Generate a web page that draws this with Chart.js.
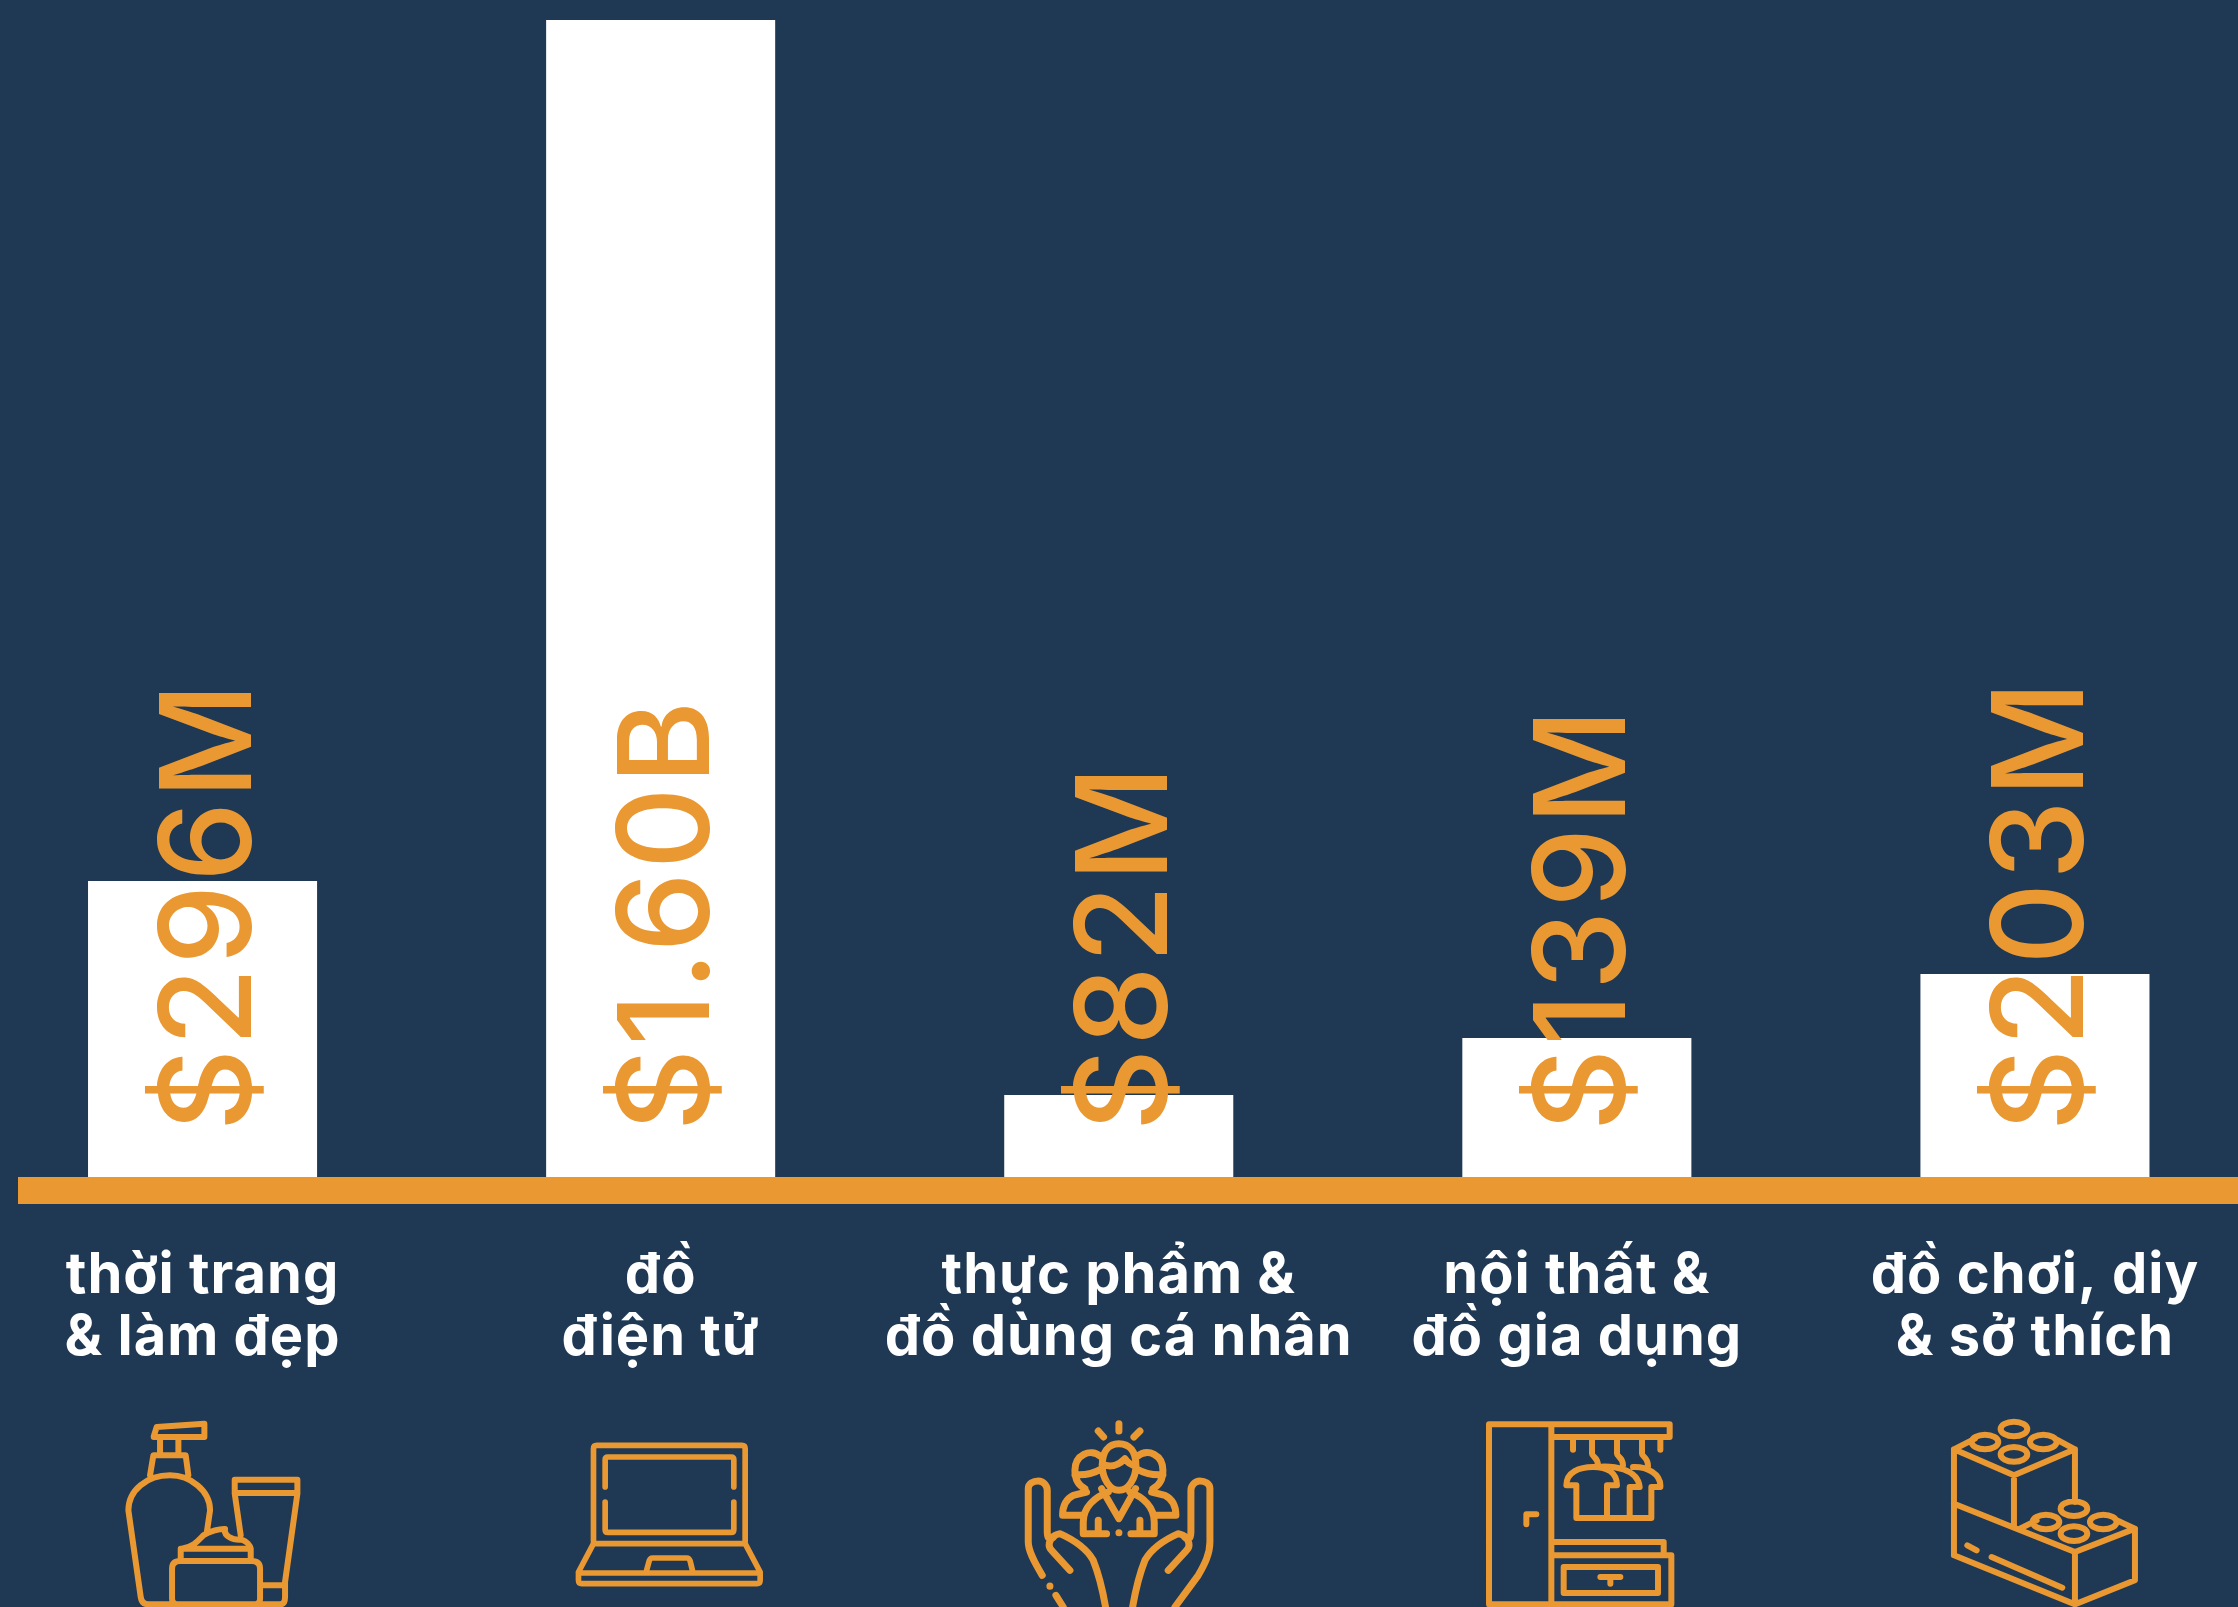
<!DOCTYPE html>
<html>
<head>
<meta charset="utf-8">
<title>Chart</title>
<script src="https://cdn.jsdelivr.net/npm/chart.js@4"></script>
<style>
    html, body { margin: 0; padding: 0; width: 2238px; height: 1607px; overflow: hidden; background: #1f3853; }
    #marketChart { position: absolute; left: -27px; top: 0; }
</style>
</head>
<body>
<canvas id="marketChart" width="2291" height="1607"></canvas>
<script>
const categories = [
    ['thời trang', '& làm đẹp'],
    ['đồ', 'điện tử'],
    ['thực phẩm &', 'đồ dùng cá nhân'],
    ['nội thất &', 'đồ gia dụng'],
    ['đồ chơi, diy', '& sở thích']
];
// million USD
const values = [296, 1600, 82, 139, 203];
const valueLabels = ['$296M', '$1.60B', '$82M', '$139M', '$203M'];
// the big bar runs off the top of the axis in the original
const axisMax = 1157;

const navy = '#1f3853';
const orange = '#ea9832';

function ellipse(cx, cy, rx, ry) {
    return 'M' + (cx - rx) + ' ' + cy + ' a' + rx + ' ' + ry + ' 0 1 0 ' + (2 * rx) + ' 0 a' + rx + ' ' + ry + ' 0 1 0 ' + (-2 * rx) + ' 0 ';
}

// line icons, in a 600 box (3 units = 1px), dx = box left relative to the bar centre
const icons = [
    { dx: -92.5, w: 18, d: 'M131 88 L140 60 L283 50 V90 H131 Z M150 90 V140 M205 90 V140 M120 205 L130 145 H227 L235 205 ' +
        'M290 378 L300 310 C300 250 240 205 180 205 C110 205 55 250 55 310 L92 570 Q95 592 115 592 H510 Q525 592 525 570 V525 L562 260 V218 H374 V260 L392 385 M374 258 H562 M455 535 H525 ' +
        'M212 458 V425 H422 V458 M215 425 C250 420 265 400 280 385 C300 372 330 365 345 366 C340 385 365 400 395 398 C410 403 420 415 422 425 ' +
        'M210 462 H425 Q450 462 450 485 V575 Q450 592 432 592 H205 Q186 592 186 575 V485 Q186 462 210 462 Z' },
    { dx: -95.5, w: 17, d: 'M85 405 V125 Q85 115 95 115 H530 Q540 115 540 125 V405 M85 410 H540 M85 410 L40 495 M540 410 L585 495 ' +
        'M120 240 V158 Q120 150 128 150 H498 Q506 150 506 158 V240 M120 285 V368 Q120 376 128 376 H498 Q506 376 506 368 V285 ' +
        'M40 498 H585 V520 Q585 530 575 530 H50 Q40 530 40 520 Z M243 495 L252 462 Q255 453 262 453 H365 Q372 453 375 462 L383 495' },
    { dx: -100.5, w: 21, d: 'M302 50 V72 M240 72 L256 90 M365 72 L347 90 ' +
        'M252 175 C252 135 270 110 302 110 C335 110 353 135 353 175 C353 215 330 250 302 250 C275 250 252 215 252 175 Z M252 172 C285 185 305 170 320 155 C330 170 340 175 353 177 ' +
        'M250 150 C215 120 170 145 170 190 C170 215 180 235 200 245 M170 203 C195 205 225 200 250 185 M354 150 C390 120 434 145 434 190 C434 215 424 235 404 245 M434 203 C410 205 380 200 354 185 ' +
        'M205 255 L165 265 C145 275 133 295 133 325 H195 M400 255 L440 265 C460 275 473 295 473 325 H410 ' +
        'M270 255 C230 270 195 300 195 345 V380 H265 M335 255 C375 270 408 300 408 345 V380 H338 M240 340 V378 M365 340 V378 M250 245 L302 335 L352 245 M302 377 V377.5 ' +
        'M72 505 C45 460 30 430 30 405 V245 C30 230 45 222 60 222 C75 222 87 235 87 250 V375 C87 395 95 405 110 385 M155 490 L100 430 C85 415 95 385 125 380 C170 400 205 425 225 460 C245 510 255 560 262 600 M95 537 V537.5 M113 565 L135 600 ' +
        'M470 600 L540 505 C560 470 575 440 575 405 V245 C575 230 560 222 545 222 C530 222 518 235 518 250 V375 C518 395 510 405 495 385 M450 490 L505 430 C520 415 510 385 480 380 C435 400 400 425 380 460 C360 510 350 560 343 600' },
    { dx: -100.5, w: 18, d: 'M38 592 V52 H225 V592 M38 592 H585 M225 52 H580 V90 H225 M290 95 V128 M552 95 V128 M150 352 V322 H180 ' +
        'M347 95 V140 C347 150 365 150 365 175 M422 95 V140 C422 150 440 150 440 175 M497 95 V140 C497 150 515 150 515 178 ' +
        'M270 235 C270 195 310 180 350 180 C390 180 422 195 422 235 H392 V333 H300 V235 Z M360 180 C410 175 485 185 490 240 H460 V333 M392 333 H525 V240 H552 C555 200 510 178 470 180 ' +
        'M225 405 H562 V440 M225 445 H585 V592 M262 480 H545 V558 H262 Z M372 510 H432 M402 510 V530' },
    { dx: -95, w: 18, d: ellipse(222, 66, 40, 22) + ellipse(135, 105, 40, 22) + ellipse(310, 105, 40, 22) + ellipse(222, 142, 40, 22) +
        'M105 95 L42 127 L222 205 L405 127 L345 95 M42 127 V445 M222 205 V355 M405 127 V285 M42 290 L405 435 V592 M42 445 L405 592 L585 520 V365 L405 435 M240 365 L290 340 M530 340 L585 365 ' +
        ellipse(402, 305, 40, 22) + ellipse(318, 345, 40, 22) + ellipse(490, 345, 40, 22) + ellipse(402, 380, 40, 22) +
        'M82 415 L110 430 M155 450 L367 542' }
];

const baselinePlugin = {
    id: 'baseline',
    beforeDraw: function(chart) {
        // wider tick text, closer to the original font
        chart.ctx.letterSpacing = '1px';
    },
    afterDatasetsDraw: function(chart) {
        const ctx = chart.ctx;
        ctx.save();
        ctx.fillStyle = orange;
        ctx.fillRect(45, chart.chartArea.bottom, chart.width - 45, 27);
        ctx.restore();
    }
};

// Chart.js has no data labels of its own
const valueLabelPlugin = {
    id: 'valueLabels',
    afterDatasetsDraw: function(chart) {
        const ctx = chart.ctx;
        const bars = chart.getDatasetMeta(0).data;
        ctx.save();
        ctx.fillStyle = orange;
        ctx.font = '500 127px Inter';
        ctx.letterSpacing = '3px';
        ctx.textAlign = 'left';
        ctx.textBaseline = 'alphabetic';
        bars.forEach(function(bar, i) {
            ctx.save();
            ctx.translate(bar.x + 48, chart.chartArea.bottom - 46);
            ctx.rotate(-Math.PI / 2);
            ctx.fillText(valueLabels[i], 0, 0);
            ctx.restore();
        });
        ctx.restore();
    }
};

const iconPlugin = {
    id: 'icons',
    afterDraw: function(chart) {
        const ctx = chart.ctx;
        const x = chart.scales.x;
        icons.forEach(function(icon, i) {
            ctx.save();
            ctx.translate(x.getPixelForValue(i) + icon.dx, 1407);
            ctx.scale(1 / 3, 1 / 3);
            ctx.strokeStyle = orange;
            ctx.lineWidth = icon.w;
            ctx.lineCap = 'round';
            ctx.lineJoin = 'round';
            ctx.stroke(new Path2D(icon.d));
            ctx.restore();
        });
    }
};

new Chart(document.getElementById('marketChart'), {
    type: 'bar',
    data: {
        labels: categories,
        datasets: [{
            data: values,
            backgroundColor: '#ffffff',
            borderWidth: 0,
            categoryPercentage: 1,
            barPercentage: 0.5
        }]
    },
    options: {
        responsive: false,
        animation: false,
        layout: { padding: { top: 20, left: 0.5, right: 0, bottom: 0 } },
        plugins: {
            legend: { display: false },
            tooltip: { enabled: false }
        },
        scales: {
            y: {
                display: false,
                min: 0,
                max: axisMax
            },
            x: {
                grid: { display: false, drawTicks: false },
                border: { display: false },
                afterFit: function(scale) {
                    scale.height = 430;
                },
                ticks: {
                    color: '#ffffff',
                    autoSkip: false,
                    maxRotation: 0,
                    minRotation: 0,
                    padding: 68,
                    font: { family: 'Inter', size: 56, weight: '700', lineHeight: 1.107 }
                }
            }
        }
    },
    plugins: [baselinePlugin, valueLabelPlugin, iconPlugin]
});
</script>
</body>
</html>
